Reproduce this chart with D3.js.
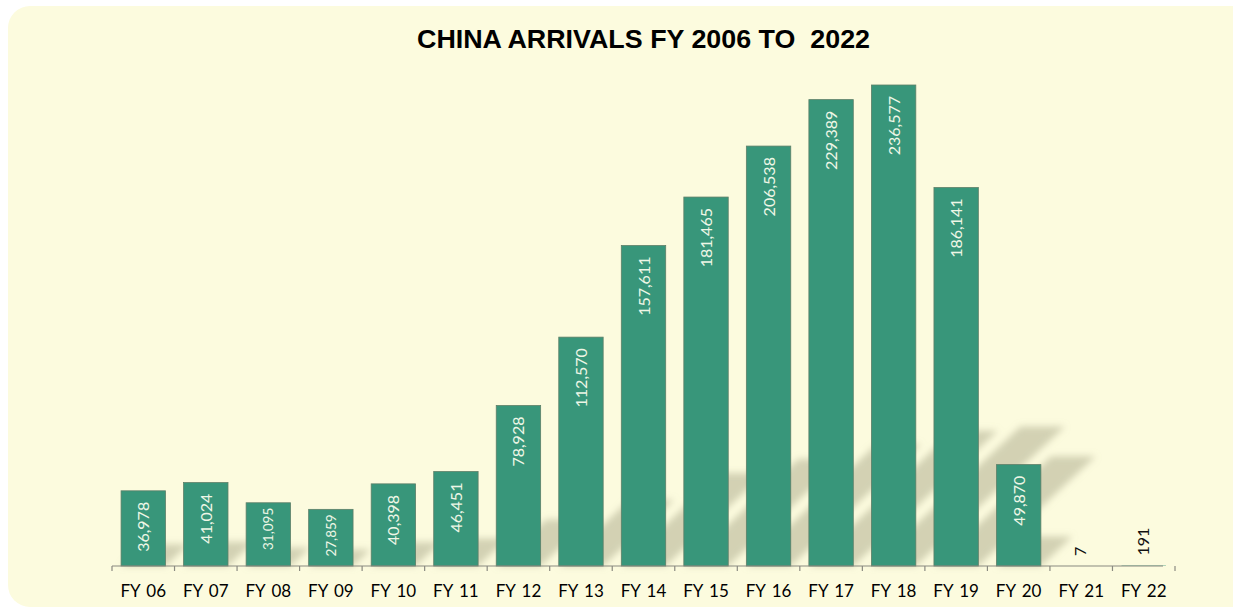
<!DOCTYPE html>
<html>
<head>
<meta charset="utf-8">
<script src="https://cdn.jsdelivr.net/npm/d3@7"></script>
<style>
  body { margin: 0; background: #ffffff; }
  svg { display: block; }
</style>
</head>
<body>
<div id="chart"></div>
<script>
// china arrivals by fiscal year
const years = ["FY 06", "FY 07", "FY 08", "FY 09", "FY 10", "FY 11", "FY 12", "FY 13", "FY 14",
  "FY 15", "FY 16", "FY 17", "FY 18", "FY 19", "FY 20", "FY 21", "FY 22"];
const arrivals = [36978, 41024, 31095, 27859, 40398, 46451, 78928, 112570, 157611,
  181465, 206538, 229389, 236577, 186141, 49870, 7, 191];
const titleText = "CHINA ARRIVALS FY 2006 TO  2022";

const W = 1233, H = 610;
const margin = {left: 112, right: 70, top: 85, bottom: 44};
const baseY = H - margin.bottom;

const data = years.map((y, i) => ({year: y, value: arrivals[i]}));
const isInside = d => d.value > 1000; // small values get their label above the bar

const svg = d3.select("#chart").append("svg")
  .attr("width", W)
  .attr("height", H);

// panel
svg.append("rect")
  .attr("x", 8).attr("y", 6)
  .attr("width", 1245).attr("height", 601)
  .attr("rx", 22)
  .attr("fill", "#fcfbde");

const defs = svg.append("defs");
defs.append("filter")
  .attr("id", "blur")
  .attr("x", "-50%").attr("y", "-50%").attr("width", "200%").attr("height", "200%")
  .append("feGaussianBlur").attr("stdDeviation", 3.5);

// title
svg.append("text")
  .attr("x", 417).attr("y", 48)
  .attr("font-family", "Liberation Sans, Arial, sans-serif")
  .attr("font-weight", "bold")
  .attr("font-size", 25)
  .attr("textLength", 453)
  .attr("lengthAdjust", "spacingAndGlyphs")
  .style("white-space", "pre")
  .attr("fill", "#000")
  .text(titleText);

// scales
const x = d3.scaleBand()
  .domain(years)
  .range([margin.left, W - margin.right + 12])
  .paddingInner(0.29)
  .paddingOuter(0.145);

const yScale = d3.scaleLinear()
  .domain([0, d3.max(arrivals)])
  .range([baseY, margin.top]);

const barH = d => baseY - yScale(d.value);

// perspective shadows
const shadowG = svg.append("g").attr("filter", "url(#blur)");
shadowG.selectAll("path")
  .data(data)
  .enter()
  .append("path")
  .attr("d", d => {
    const h = barH(d);
    const x0 = x(d.year), x1 = x0 + x.bandwidth();
    const dy = h * 0.29, dx = h * 0.31;
    return `M${x0},${baseY} L${x1},${baseY} L${x1 + dx},${baseY - dy} L${x0 + dx},${baseY - dy} Z`;
  })
  .attr("fill", "#a9a88a")
  .attr("opacity", 0.5);

// bars
svg.append("g").selectAll("rect")
  .data(data)
  .enter()
  .append("rect")
  .attr("x", d => x(d.year))
  .attr("y", d => yScale(d.value))
  .attr("width", x.bandwidth())
  .attr("height", d => barH(d))
  .attr("fill", "#38967a")
  .attr("stroke", d => barH(d) > 2 ? "#5d7f68" : "none")
  .attr("stroke-width", 0.8);

// value labels, shrunk a bit on the short bars
svg.append("g").selectAll("text")
  .data(data)
  .enter()
  .append("text")
  .attr("transform", d => {
    const small = barH(d) < 70;
    const cx = x(d.year) + x.bandwidth() / 2 + (small ? 5 : 6);
    const ty = isInside(d) ? yScale(d.value) + (small ? 5 : 11) : yScale(d.value) - 10;
    return `translate(${cx},${ty}) rotate(-90)`;
  })
  .attr("text-anchor", d => isInside(d) ? "end" : "start")
  .attr("font-family", "Lato, sans-serif")
  .attr("font-size", d => (isInside(d) && barH(d) < 70) ? 13.5 : 16)
  .attr("fill", d => isInside(d) ? "#eef6e6" : "#111")
  .text(d => d3.format(",")(d.value));

// x axis
const xAxis = svg.append("g")
  .attr("transform", `translate(0,${baseY})`);
xAxis.append("line")
  .attr("x1", margin.left).attr("x2", W - margin.right)
  .attr("stroke", "#8a8a80").attr("stroke-width", 1.2);
const tickXs = years.map(y => x(y) - x.step() * x.paddingInner() / 2)
  .concat([x(years[years.length - 1]) + x.bandwidth() + x.step() * x.paddingInner() / 2]);
xAxis.selectAll("line.tick")
  .data(tickXs)
  .enter()
  .append("line")
  .attr("class", "tick")
  .attr("x1", d => d).attr("x2", d => d)
  .attr("y1", 0).attr("y2", 5)
  .attr("stroke", "#8a8a80").attr("stroke-width", 1.2);
xAxis.selectAll("text")
  .data(years)
  .enter()
  .append("text")
  .attr("x", d => x(d) + x.bandwidth() / 2)
  .attr("y", 31)
  .attr("text-anchor", "middle")
  .attr("font-family", "Lato, sans-serif")
  .attr("font-size", 17)
  .style("word-spacing", "2px")
  .attr("fill", "#000")
  .text(d => d);
</script>
</body>
</html>
